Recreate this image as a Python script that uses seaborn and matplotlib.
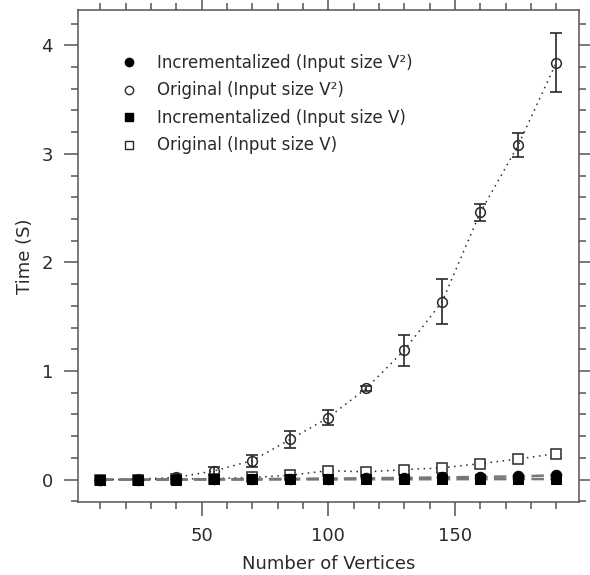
import matplotlib
matplotlib.use("Agg")
import matplotlib.pyplot as plt
from matplotlib.lines import Line2D
from matplotlib.ticker import MultipleLocator
import pandas as pd
import seaborn as sns


# data
vertices = [10, 25, 40, 55, 70, 85, 100, 115, 130, 145, 160, 175, 190]
orig_v2 = [0.0, 0.005, 0.02, 0.08, 0.175, 0.37, 0.57, 0.84, 1.19, 1.64, 2.46, 3.08, 3.84]
orig_v2_err = [0.0, 0.0, 0.01, 0.035, 0.055, 0.08, 0.07, 0.02, 0.14, 0.21, 0.08, 0.11, 0.27]
orig_v = [0.0, 0.0, 0.005, 0.01, 0.02, 0.04, 0.083, 0.071, 0.092, 0.108, 0.147, 0.19, 0.24]
incr_v2 = [0.0, 0.0, 0.002, 0.003, 0.005, 0.007, 0.01, 0.012, 0.016, 0.02, 0.025, 0.03, 0.04]
incr_v = [0.0, 0.0, 0.0, 0.001, 0.001, 0.002, 0.002, 0.003, 0.003, 0.004, 0.004, 0.005, 0.005]

labels = [
    "Incrementalized (Input size V²)",
    "Original (Input size V²)",
    "Incrementalized (Input size V)",
    "Original (Input size V)",
]

INK = "#2a2a2a"
GRAY = "#555555"

sns.set_style("ticks")
plt.rcParams["font.family"] = ["DejaVu Sans"]

df = pd.DataFrame({
    "vertices": vertices,
    "orig_v2": orig_v2,
    "orig_v": orig_v,
    "incr_v2": incr_v2,
    "incr_v": incr_v,
})

fig = plt.figure(figsize=(5.9, 5.75), dpi=100)
ax = fig.add_axes([0.132, 0.127, 0.849, 0.856])

# original runs: dotted lines with open markers
sns.lineplot(data=df, x="vertices", y="orig_v", ax=ax, color=INK, lw=1.1,
             linestyle=(0, (1, 3)), marker="s", markersize=7,
             markerfacecolor="white", markeredgecolor=INK, markeredgewidth=1.1)
ax.errorbar(vertices, orig_v2, yerr=orig_v2_err, fmt="none", ecolor=INK,
            elinewidth=1.2, capsize=4, capthick=1.2)
sns.lineplot(data=df, x="vertices", y="orig_v2", ax=ax, color=INK, lw=1.1,
             linestyle=(0, (1, 3)), marker="o", markersize=7,
             markerfacecolor="none", markeredgecolor=INK, markeredgewidth=1.1)

# incrementalized runs: dashed lines with filled markers
sns.lineplot(data=df, x="vertices", y="incr_v", ax=ax, color="#777777", lw=1.8,
             linestyle=(0, (5, 2.5)), marker="s", markersize=7,
             markerfacecolor="black", markeredgecolor="black")
sns.lineplot(data=df, x="vertices", y="incr_v2", ax=ax, color="#777777", lw=1.8,
             linestyle=(0, (5, 2.5)), marker="o", markersize=7.5,
             markerfacecolor="black", markeredgecolor="black")

ax.set_xlim(1.2, 198.9)
ax.set_ylim(-0.206, 4.327)
ax.xaxis.set_major_locator(MultipleLocator(50))
ax.xaxis.set_minor_locator(MultipleLocator(10))
ax.yaxis.set_major_locator(MultipleLocator(1))
ax.yaxis.set_minor_locator(MultipleLocator(0.2))

ax.tick_params(which="both", direction="out", top=True, right=True,
               colors=GRAY, labelcolor=INK, labelsize=13, width=1.1)
ax.tick_params(which="major", length=10, pad=8)
ax.tick_params(which="minor", length=5)
for s in ax.spines.values():
    s.set_visible(True)
    s.set_color(GRAY)
    s.set_linewidth(1.1)

ax.set_xlabel("Number of Vertices", fontsize=13, color=INK, labelpad=7)
ax.set_ylabel("Time (S)", fontsize=13, color=INK, labelpad=5)

handles = [
    Line2D([], [], ls="none", marker="o", ms=6, mfc="black", mec="black"),
    Line2D([], [], ls="none", marker="o", ms=6, mfc="none", mec=INK),
    Line2D([], [], ls="none", marker="s", ms=6, mfc="black", mec="black"),
    Line2D([], [], ls="none", marker="s", ms=6, mfc="none", mec=INK),
]
ax.legend(handles, labels, loc="upper left", frameon=False, fontsize=12,
          labelcolor=INK, handletextpad=0.64, labelspacing=0.57,
          bbox_to_anchor=(0.056, 0.924), borderaxespad=0)

fig.savefig("out.png", dpi=100)
